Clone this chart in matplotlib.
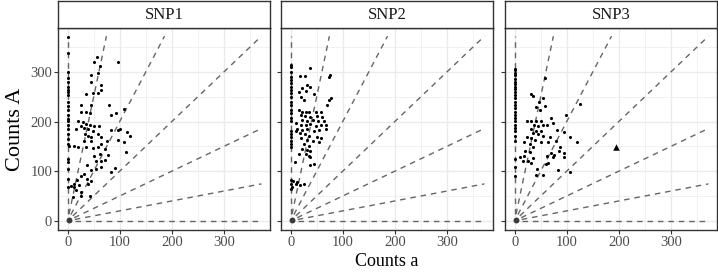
import matplotlib
matplotlib.use("Agg")
import matplotlib.pyplot as plt
import numpy as np

plt.rcParams['font.family'] = ['Liberation Serif', 'DejaVu Serif']

panels = ["SNP1", "SNP2", "SNP3"]
ratio_slopes = [np.inf, 5, 2, 1, 0.5, 0.2, 0]

# SNP1
snp1_zero_y = [371, 338, 300, 287, 279, 270, 264, 259, 254, 240, 231, 224, 214, 206, 201, 193,
               184, 174, 165, 155, 125, 119, 105, 85, 69]
snp1_x = [56, 51, 63, 44, 58, 96, 44, 64, 65, 58, 48, 35, 26, 44, 26, 35, 42, 80, 83, 93, 108,
          19, 29, 35, 42, 51, 61, 26, 32, 40, 48, 16, 83, 96, 101, 114, 119, 33, 40, 45, 58, 64,
          76, 96, 108, 3, 12, 19, 35, 48, 58, 64, 45, 32, 71, 112, 51, 63, 78, 55, 64, 71, 90, 83,
          38, 45, 55, 64, 32, 26, 38, 18, 13, 21, 6, 12, 45, 40, 16, 26, 42, 10, 26]
snp1_y = [331, 321, 311, 293, 298, 319, 279, 273, 263, 258, 257, 255, 234, 234, 220, 219, 217,
          234, 214, 217, 226, 201, 199, 196, 194, 192, 192, 191, 187, 184, 181, 184, 183, 182,
          184, 178, 171, 174, 171, 169, 174, 169, 161, 162, 158, 151, 151, 149, 148, 147, 148,
          154, 161, 161, 145, 138, 130, 135, 133, 121, 120, 123, 107, 98, 112, 103, 105, 108, 95,
          90, 85, 82, 75, 72, 70, 69, 80, 75, 62, 59, 50, 48, 50]

# SNP2
snp2_zero_y = [314, 310, 300, 290, 283, 277, 270, 264, 257, 250, 240, 234, 224, 218, 208, 201,
               181, 174, 168, 161, 154, 148, 82, 75, 65]
snp2_x = [38, 18, 27, 76, 74, 32, 38, 22, 29, 16, 44, 19, 26, 78, 74, 69, 16, 22, 29, 35, 48,
          58, 19, 27, 38, 50, 61, 22, 32, 42, 53, 64, 10, 19, 29, 38, 48, 58, 67, 13, 22, 32, 44,
          54, 67, 10, 18, 27, 35, 50, 58, 19, 31, 42, 54, 26, 35, 22, 31, 38, 29, 35, 38, 16, 44,
          38, 8, 13, 5, 10, 18, 26, 3]
snp2_y = [308, 291, 291, 293, 290, 273, 269, 267, 261, 260, 255, 250, 244, 247, 244, 234, 224,
          220, 219, 220, 220, 220, 214, 211, 209, 211, 209, 204, 202, 204, 202, 201, 197, 194,
          193, 195, 191, 194, 193, 184, 182, 184, 181, 182, 184, 180, 176, 174, 171, 169, 166,
          166, 162, 161, 158, 154, 151, 145, 143, 140, 135, 131, 128, 135, 115, 112, 118, 79, 81,
          75, 72, 74, 69]

# SNP3
snp3_zero_y = [306, 303, 298, 293, 286, 280, 275, 270, 265, 260, 253, 247, 240, 234, 227, 220,
               214, 207, 201, 194, 187, 181, 171, 161, 125, 108, 90]
snp3_x = [58, 31, 35, 54, 126, 46, 58, 41, 48, 98, 69, 24, 32, 41, 50, 73, 38, 45, 54, 62, 81,
          32, 41, 51, 35, 45, 54, 95, 107, 24, 32, 39, 67, 79, 119, 18, 29, 51, 65, 35, 88, 86,
          19, 29, 69, 76, 94, 10, 18, 35, 62, 73, 94, 16, 25, 31, 65, 60, 43, 84, 107, 54, 41]
snp3_y = [288, 255, 251, 247, 235, 239, 232, 230, 224, 213, 207, 201, 201, 202, 201, 198, 194,
          191, 194, 193, 182, 184, 181, 181, 176, 174, 171, 178, 168, 169, 166, 162, 168, 161,
          158, 158, 154, 158, 158, 148, 149, 141, 141, 138, 136, 133, 136, 128, 131, 127, 131,
          128, 129, 121, 121, 116, 116, 114, 105, 103, 98, 92, 92]
snp3_outlier = (194, 148)

data = [
    (snp1_x, snp1_y, snp1_zero_y, None),
    (snp2_x, snp2_y, snp2_zero_y, None),
    (snp3_x, snp3_y, snp3_zero_y, snp3_outlier),
]

W, H = 718, 272
fig = plt.figure(figsize=(W / 100, H / 100), dpi=100)

lefts = [58, 281, 505]
pw = 212
ptop, pbot = 28.0, 230.0
stop = 1.0

lim = (-18.5, 388.5)
maxv = 372
r0 = 14

for i, (name, (xs, ys, zy, outl)) in enumerate(zip(panels, data)):
    ax = fig.add_axes([lefts[i] / W, 1 - pbot / H, pw / W, (pbot - ptop) / H])
    ax.set_xlim(*lim)
    ax.set_ylim(*lim)
    ax.set_xticks([0, 100, 200, 300])
    ax.set_yticks([0, 100, 200, 300])
    ax.set_xticks([50, 150, 250, 350], minor=True)
    ax.set_yticks([50, 150, 250, 350], minor=True)
    ax.grid(True, which='major', color='#EBEBEB', linewidth=1.0, zorder=0)
    ax.grid(True, which='minor', color='#EBEBEB', linewidth=0.5, zorder=0)
    ax.set_axisbelow(True)
    for sp in ax.spines.values():
        sp.set_color('#333333')
        sp.set_linewidth(1.0)
    ax.tick_params(which='major', length=3, width=0.8, color='#333333',
                   labelsize=10.5, labelcolor='#4D4D4D', pad=1.2)
    ax.tick_params(which='minor', length=0)
    if i > 0:
        ax.set_yticklabels([])

    # ratio lines
    for s in ratio_slopes:
        if np.isinf(s):
            x0, y0, x1, y1 = 0, r0, 0, maxv
        else:
            ang = np.arctan(s)
            x0, y0 = r0 * np.cos(ang), r0 * np.sin(ang)
            if s >= 1:
                x1, y1 = maxv / s, maxv
            else:
                x1, y1 = maxv, maxv * s
        ax.plot([x0, x1], [y0, y1], color='#666666', linewidth=1.0,
                linestyle=(0, (4, 3.5)), zorder=2)

    ax.scatter([0] * len(zy), zy, s=5, color='black', linewidths=0, zorder=3)
    ax.scatter(xs, ys, s=5, color='black', linewidths=0, zorder=3)
    ax.scatter([3], [2], s=18, color='#3A3A3A', linewidths=0, zorder=3)
    if outl is not None:
        ax.scatter([outl[0]], [outl[1]], s=22, marker='^', color='black',
                   linewidths=0, zorder=4)

    # strip
    sax = fig.add_axes([lefts[i] / W, 1 - ptop / H, pw / W, (ptop - stop) / H])
    sax.set_xticks([])
    sax.set_yticks([])
    sax.set_facecolor('white')
    for sp in sax.spines.values():
        sp.set_color('#333333')
        sp.set_linewidth(1.0)
    sax.text(0.5, 0.48, name, ha='center', va='center', fontsize=12,
             color='#1A1A1A', transform=sax.transAxes)

fig.text(15 / W, 1 - (ptop + pbot) / 2 / H, "Counts A", rotation=90, ha='center',
         va='center', fontsize=16, color='black')
fig.text(387 / W, 1.5 / H, "Counts a", ha='center', va='bottom',
         fontsize=13, color='black')

fig.savefig("out.png", dpi=100)
